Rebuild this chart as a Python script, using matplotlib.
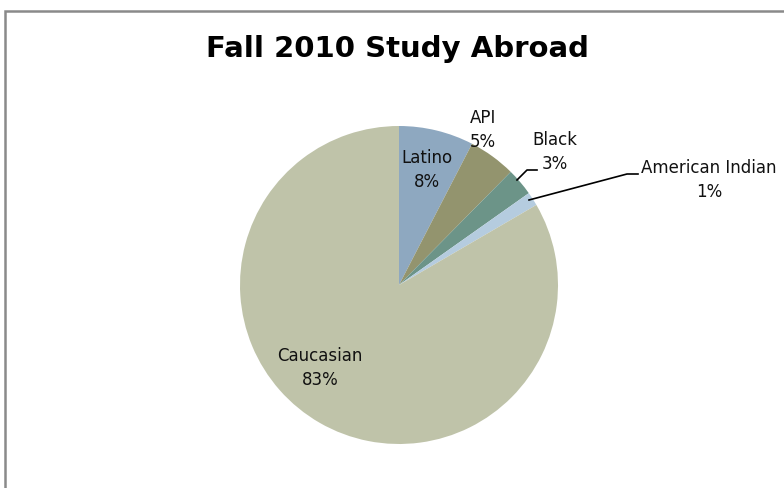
import matplotlib
matplotlib.use("Agg")
import matplotlib.pyplot as plt
from matplotlib.patches import Rectangle

groups = ["Latino", "API", "Black", "American Indian", "Caucasian"]
shares = [7.6, 4.8, 2.8, 1.4, 83.4]
pct_labels = ["8%", "5%", "3%", "1%", "83%"]
colors = ["#8ea8c0", "#93946e", "#6c9488", "#b5ccdf", "#bfc3a9"]

W, H = 784, 488
fig = plt.figure(figsize=(W / 100, H / 100), dpi=100)
ax = fig.add_axes([0, 0, 1, 1])

# pie centre / radius in pixel units (y measured from bottom)
cx, cy, r = 399, H - 285, 159
wedges, _ = ax.pie(shares, colors=colors, startangle=90, counterclock=False,
                   center=(cx, cy), radius=r, wedgeprops=dict(linewidth=0))
ax.set_xlim(0, W)
ax.set_ylim(0, H)
ax.set_aspect("equal")
ax.axis("off")

# chart frame
fig.patches.append(Rectangle((5 / W, -0.1), 1.2, (H - 11) / H + 0.1,
                             transform=fig.transFigure, fill=False,
                             edgecolor="#8a8a8a", linewidth=1.8))

fig.text(398 / W, 1 - 49 / H, "Fall 2010 Study Abroad", ha="center", va="center",
         fontsize=21, fontweight="bold", family="DejaVu Sans")

def lab(x, y, s):
    ax.text(x, H - y, s, ha="center", va="center", fontsize=12, family="DejaVu Sans",
            linespacing=1.45, color="#111111")

lab(427, 170, groups[0] + "\n" + pct_labels[0])
lab(483, 130, groups[1] + "\n" + pct_labels[1])
lab(555, 152, groups[2] + "\n" + pct_labels[2])
lab(709, 180, groups[3] + "\n" + pct_labels[3])
lab(320, 368, groups[4] + "\n" + pct_labels[4])

# leader lines
ax.plot([517, 527, 537], [H - 180, H - 170, H - 170], color="black", lw=1.2)
ax.plot([529, 627, 638], [H - 200, H - 174, H - 174], color="black", lw=1.2)

fig.savefig("out.png", dpi=100)
